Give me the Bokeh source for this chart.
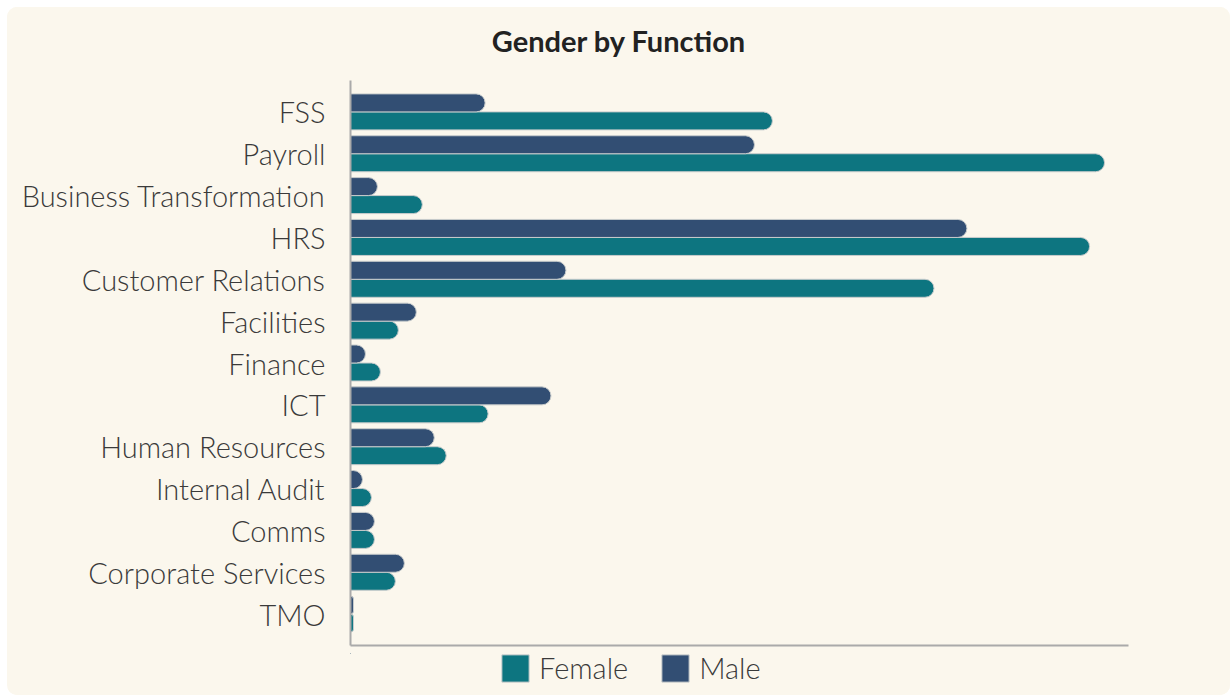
from bokeh.plotting import figure
from bokeh.layouts import column
from bokeh.models import ColumnDataSource, FactorRange, Range1d, FixedTicker, Legend, Div
from bokeh.transform import dodge
from bokeh.embed import file_html
from bokeh.resources import INLINE

functions = ["FSS", "Payroll", "Business Transformation", "HRS", "Customer Relations",
             "Facilities", "Finance", "ICT", "Human Resources", "Internal Audit",
             "Comms", "Corporate Services", "TMO"]
female = [141, 252, 24, 247, 195, 16, 10, 46, 32, 7, 8, 15, 1]
male = [45, 135, 9, 206, 72, 22, 5, 67, 28, 4, 8, 18, 1]

BG = "#FBF7ED"
TEAL = "#0D7580"
NAVY = "#324E73"
LIGHT = "Lato Light"
BAR_EDGE = "#c8cccc"

src = ColumnDataSource(dict(fn=functions, female=female, male=male))

title = Div(text="Gender by Function", width=1223, height=63,
            styles={"font-family": "Lato", "font-weight": "700", "font-size": "29px",
                    "color": "#222222", "text-align": "center", "line-height": "68px",
                    "background-color": BG, "margin": "0", "padding": "0"})

yr = FactorRange(factors=list(reversed(functions)), range_padding=0.25,
                 range_padding_units="absolute")
p = figure(frame_width=778, frame_height=565, y_range=yr, x_range=Range1d(0, 260),
           output_backend="svg", toolbar_location=None,
           min_border_left=343, min_border_right=102, min_border_top=10,
           min_border_bottom=8)
p.background_fill_color = BG
p.border_fill_color = BG
p.outline_line_color = None
p.grid.visible = False

p.hbar(y=dodge("fn", -0.215, range=p.y_range), left=0, right="female", height=0.43,
       source=src, fill_color=TEAL, line_color=BAR_EDGE, line_width=1,
       border_radius=(0, 9, 9, 0))
p.hbar(y=dodge("fn", 0.215, range=p.y_range), left=0, right="male", height=0.43,
       source=src, fill_color=NAVY, line_color=BAR_EDGE, line_width=1,
       border_radius=(0, 9, 9, 0))

for ax in (p.xaxis[0], p.yaxis[0]):
    ax.axis_line_color = "#aaaaaa"
    ax.axis_line_width = 2
    ax.major_tick_line_color = None
    ax.minor_tick_line_color = None

p.xaxis.ticker = FixedTicker(ticks=[])
p.xaxis.major_label_text_font_size = "0px"
p.yaxis.major_label_text_font = LIGHT
p.yaxis.major_label_text_font_size = "29px"
p.yaxis.major_label_text_color = "#3a3a3a"
p.yaxis.major_label_standoff = 19

# legend strip (same series, viewed outside their extent so only the legend shows)
lf = figure(width=1223, height=42, output_backend="svg", toolbar_location=None,
            min_border=0, x_range=Range1d(300, 400), y_range=FactorRange(factors=functions))
lf.background_fill_color = BG
lf.border_fill_color = BG
lf.outline_line_color = None
lf.grid.visible = False
lf.xaxis.visible = False
lf.yaxis.visible = False
lf_f = lf.hbar(y=dodge("fn", 60, range=lf.y_range), right="female", left=0, height=0.4,
               source=src, fill_color=TEAL, line_color=BAR_EDGE, line_width=1)
lf_m = lf.hbar(y=dodge("fn", 60, range=lf.y_range), right="male", left=0, height=0.4,
               source=src, fill_color=NAVY, line_color=BAR_EDGE, line_width=1)

legend = Legend(items=[("Female", [lf_f]), ("Male", [lf_m])], orientation="horizontal",
                location=(148, 10), padding=0, margin=0, spacing=30,
                glyph_width=34, glyph_height=34, label_standoff=7,
                label_text_font=LIGHT, label_text_font_size="29px",
                label_text_color="#3a3a3a", border_line_color=None,
                background_fill_alpha=0)
lf.add_layout(legend, "center")

layout = column(title, p, lf, spacing=0)
layout.styles = {"border-radius": "10px", "overflow": "hidden",
                 "margin-left": "7px", "margin-top": "7px",
                 "background-color": BG}

open("out.html", "w").write(file_html(layout, INLINE))
